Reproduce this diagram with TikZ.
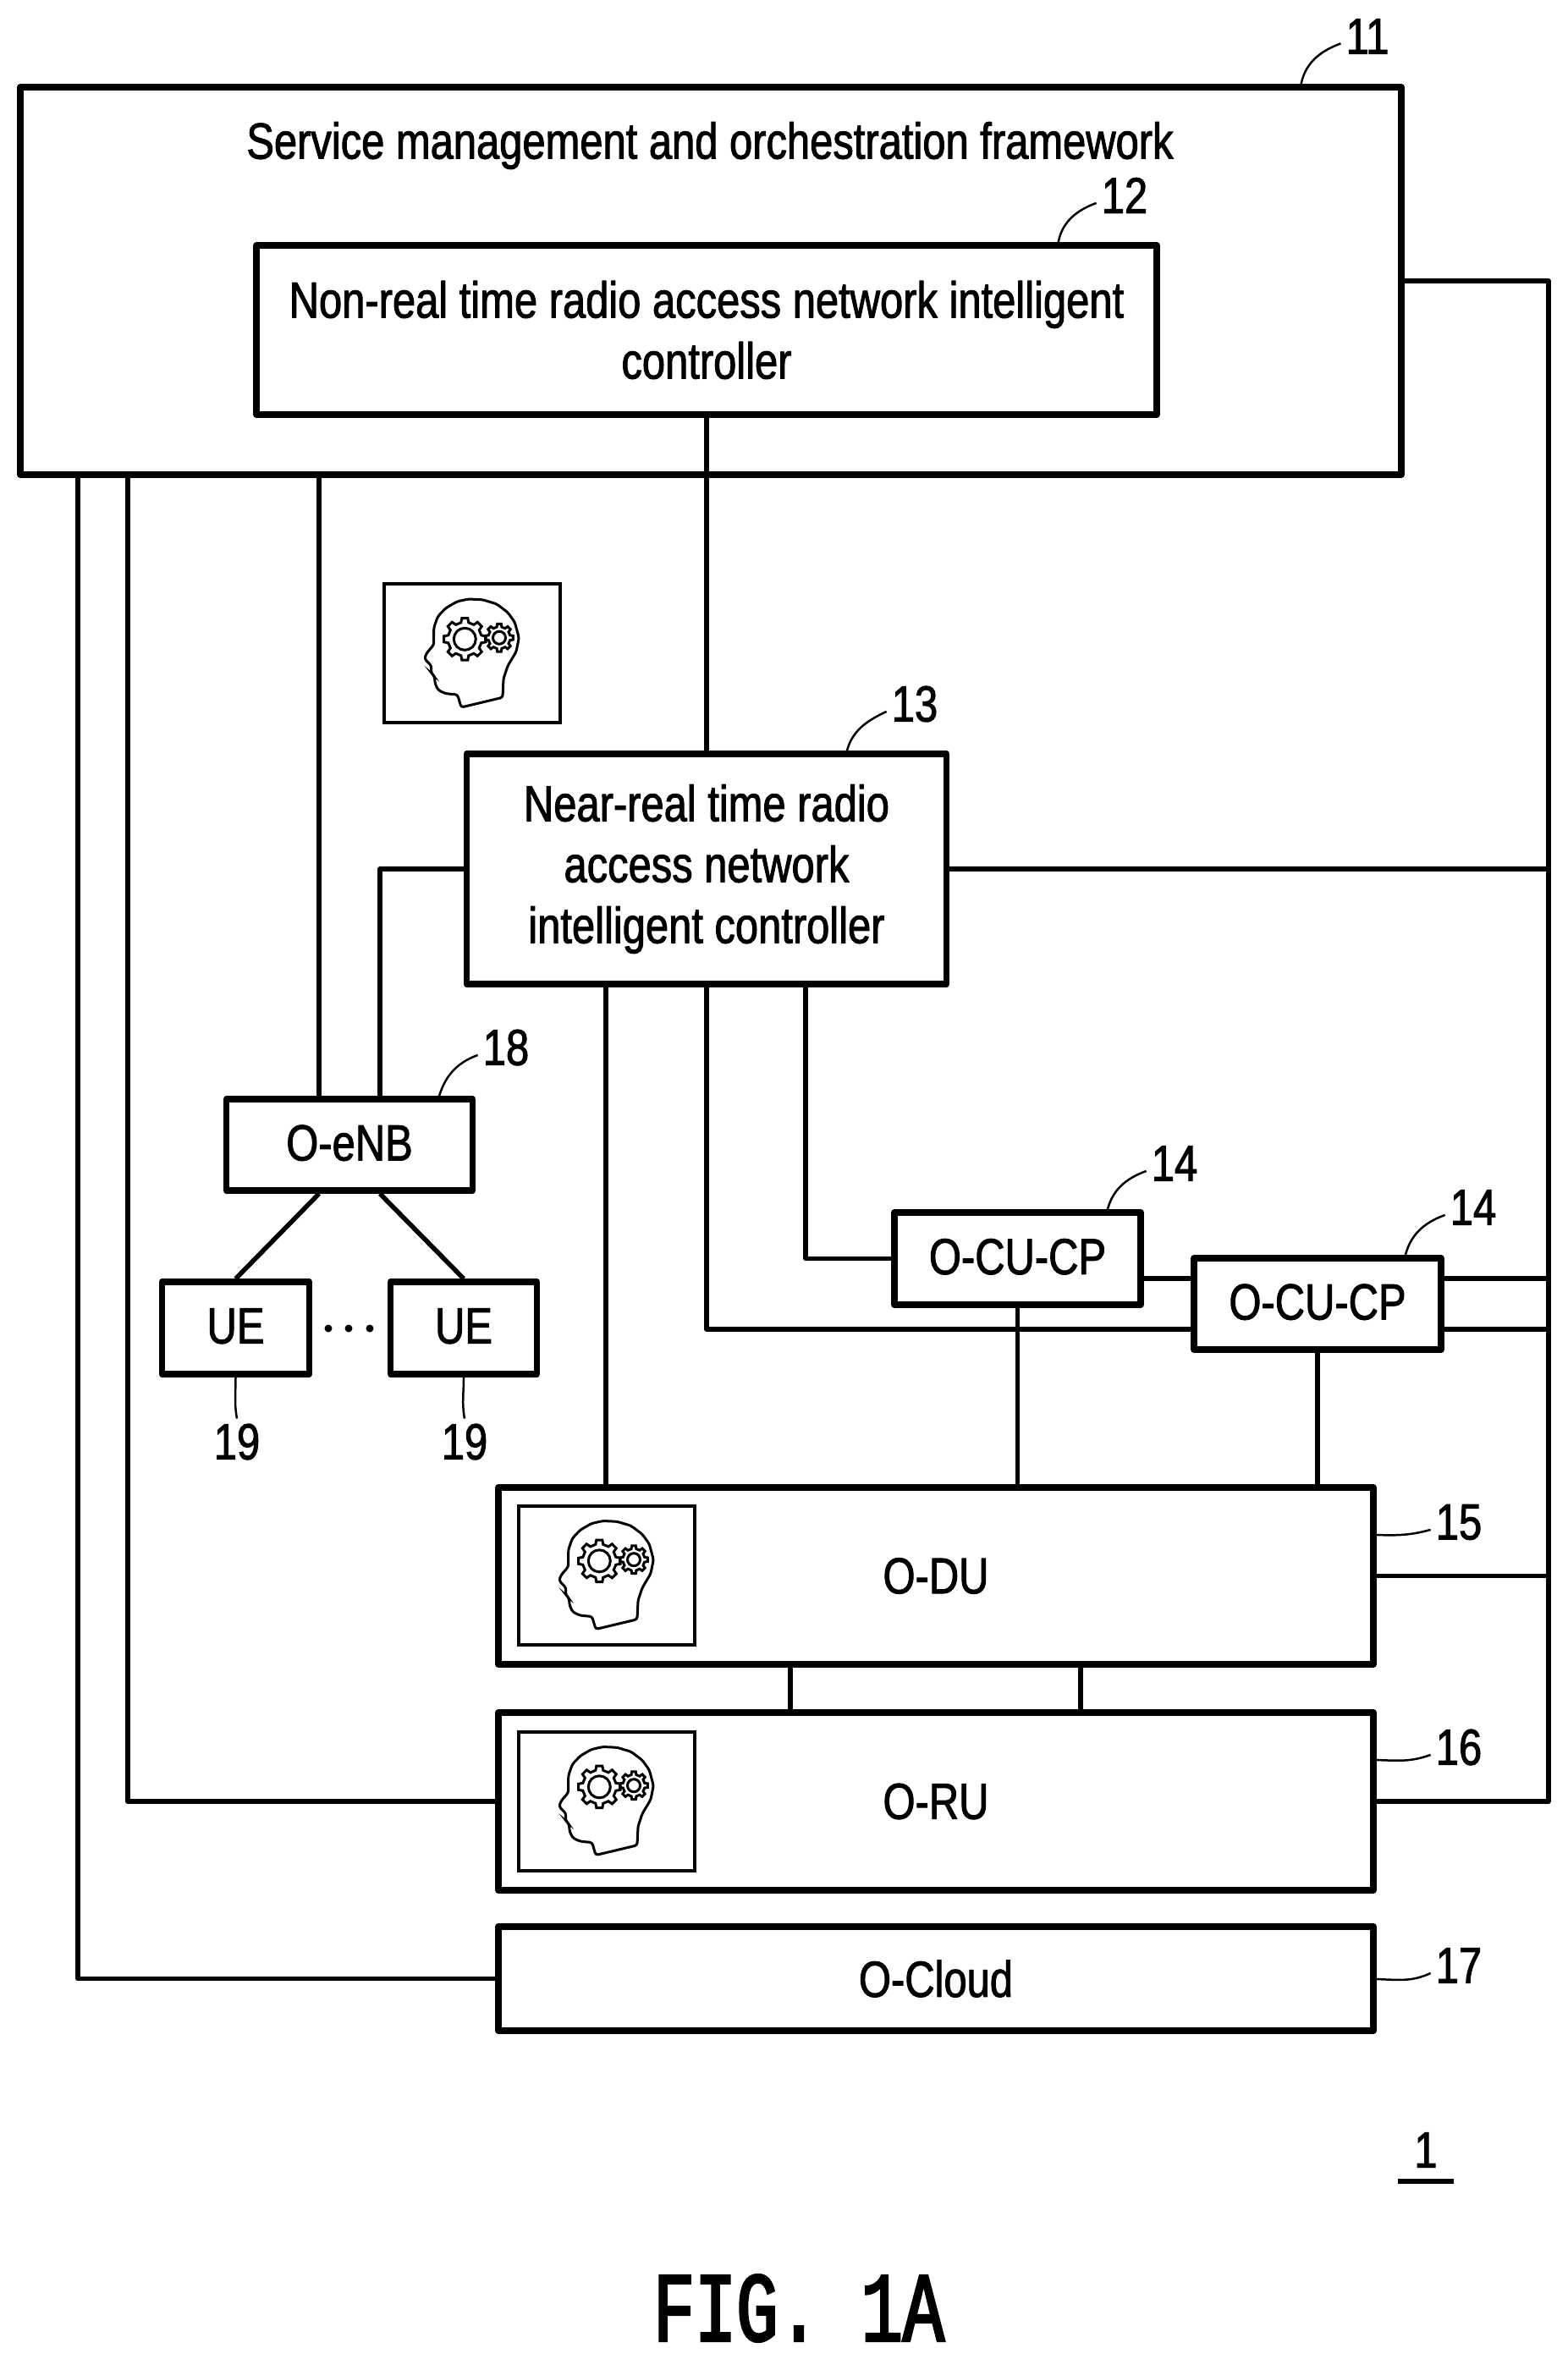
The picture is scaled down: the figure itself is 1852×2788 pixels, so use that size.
\documentclass[tikz,border=0pt]{standalone}
\usepackage{fontspec}
\setmainfont[FakeStretch=0.815, FakeBold=1.6]{Liberation Sans}
\newfontfamily\figfont[FakeStretch=0.7, FakeBold=2.5]{Liberation Mono}
\usepackage{tikz}

\tikzset{
  box/.style = {draw, rectangle, line width=7.5pt, line join=round, inner sep=0pt, align=center},
  smallbox/.style = {box, text depth=5pt},
  wire/.style = {line width=5.5pt, line join=round},
  lead/.style = {line width=2.5pt},
  num/.style = {inner sep=6pt},
  dot/.style = {circle, fill, inner sep=0pt, minimum size=9pt},
  brain/.pic = {
    \draw[line width=4pt] (-104,-82) rectangle (104,82);
    \draw[line width=3pt, rounded corners=3pt] (36,52.3) -- (-13,64) -- (-17.3,49) -- (-31.3,47.7) -- (-39.7,44) -- (-43.7,36.7) -- (-44.7,26.7) -- (-48.7,23.3) -- (-48,15) -- (-56.3,6.7) -- (-54,0) -- (-45.3,-10) -- (-45.3,-30) -- (-40.7,-43.3) -- (-31.3,-53.3) -- (-18,-61) -- (-4.7,-64) -- (12,-63.3) -- (28.7,-58.3) -- (42,-48.3) -- (50.3,-36.7) -- (55.3,-18.3) -- (52,-1.7) -- (42,15) -- (37,30) -- cycle;
    \begin{scope}[shift={(-8.7,-16.7)}, line width=3pt]
      \draw (0,0) circle (13);
      \draw (-13:20) \foreach \a in {0,45,...,315}{ -- ({\a-13}:20) -- ({\a-8}:25) -- ({\a+8}:25) -- ({\a+13}:20)} -- cycle;
    \end{scope}
    \begin{scope}[shift={(32,-18.3)}, line width=3pt]
      \draw (0,0) circle (7.5);
      \draw (-13:13) \foreach \a in {0,45,...,315}{ -- ({\a-13}:13) -- ({\a-8}:16.5) -- ({\a+8}:16.5) -- ({\a+13}:13)} -- cycle;
    \end{scope}
  }
}

\begin{document}
\begin{tikzpicture}[x=1pt, y=-1pt, every node/.style={font=\fontsize{60}{72}\selectfont}]
\useasboundingbox (0,0) rectangle (1852,2788);

\node[box, minimum width=1632pt, minimum height=458pt](s11) at (840,332){};
\node (t11) at (839,172){Service management and orchestration framework};
\node[box, minimum width=1064pt, minimum height=200pt](s12) at (835,390){Non-real time radio access network intelligent\\controller};
\node[box, minimum width=567pt, minimum height=272pt](s13) at (835,1027){Near-real time radio\\access network\\intelligent controller};
\node[smallbox, minimum width=291pt, minimum height=109pt](s14a) at (1202.5,1487.5){O-CU-CP};
\node[smallbox, minimum width=292pt, minimum height=108pt](s14b) at (1557,1541){O-CU-CP};
\node[box, minimum width=1034pt, minimum height=209pt](s15) at (1106,1862.5){O-DU};
\node[box, minimum width=1034pt, minimum height=210pt](s16) at (1106,2129){O-RU};
\node[box, minimum width=1034pt, minimum height=123pt](s17) at (1106,2338.5){O-Cloud};
\node[smallbox, minimum width=291pt, minimum height=108pt](s18) at (413,1353){O-eNB};
\node[smallbox, minimum width=174pt, minimum height=109pt](u1) at (278.5,1569.5){UE};
\node[smallbox, minimum width=173pt, minimum height=109pt](u2) at (548,1569.5){UE};
\foreach \x/\n in {388/d1, 412/d2, 437/d3}
  \node[dot](\n) at (\x,1570){};

\pic at (558,772) {brain};
\pic at (717,1861.5) {brain};
\pic at (717,2128.5) {brain};

\node[num](n11) at (1616,43){11};
\node[num](n12) at (1329,231){12};
\node[num](n13) at (1081,832){13};
\node[num](n14a) at (1388,1375){14};
\node[num](n14b) at (1741,1427){14};
\node[num](n15) at (1724,1799){15};
\node[num](n16) at (1724,2065){16};
\node[num](n17) at (1724,2323){17};
\node[num](n18) at (598,1238){18};
\node[num](n19a) at (280,1704){19};
\node[num](n19b) at (549,1704){19};
\node[num](n1) at (1685,2541){1};
\node (fig) at (944,2728){\fontsize{117}{130}\selectfont\figfont FIG. 1A};

\coordinate (l1) at (92,561);
\coordinate (l2) at (151,561);
\coordinate (l3) at (377,561);
\coordinate (l4) at (449,1027);
\coordinate (c1) at (716,1163);
\coordinate (c2) at (835,1163);
\coordinate (c3) at (952,1163);
\coordinate (r0) at (1830,332);
\coordinate (j1) at (1400,1511);
\coordinate (j2) at (1400,1571);
\coordinate (t1) at (934,1967);
\coordinate (t2) at (1277,1967);
\coordinate (k11) at (1537,103);
\coordinate (k12) at (1250,290);
\coordinate (k13) at (1000,891);
\coordinate (k14a) at (1308,1433);
\coordinate (k14b) at (1660,1487);
\coordinate (k15) at (1627,1814);
\coordinate (k16) at (1627,2080);
\coordinate (k17) at (1627,2339);
\coordinate (k18) at (518,1299);
\coordinate (m1) at (1652,2578);
\coordinate (m2) at (1718,2578);

\draw[wire] (l1 |- s11.south) |- (s17.west);
\draw[wire] (l2 |- s11.south) |- (s16.west);
\draw[wire] (l3 |- s11.south) -- (l3 |- s18.north);
\draw[wire] (c2 |- s12.south) -- (c2 |- s13.north);
\draw[wire] (s11.east |- r0) -- (r0) |- (s16.east);
\draw[wire] (s13.east) -- (r0 |- s13.east);
\draw[wire] (s13.west) -| (l4 |- s18.north);
\draw[wire] (c1 |- s13.south) -- (c1 |- s15.north);
\draw[wire] (c2 |- s13.south) |- (s14b.west |- j2);
\draw[wire] (c3 |- s13.south) |- (s14a.west);
\draw[wire] (s14a.east |- j1) -- (s14b.west |- j1);
\draw[wire] (s14b.east |- j1) -- (r0 |- j1);
\draw[wire] (s14b.east |- j2) -- (r0 |- j2);
\draw[wire] (s14a.south) -- (s14a.south |- s15.north);
\draw[wire] (s14b.south) -- (s14b.south |- s15.north);
\draw[wire] (s15.east) -- (r0 |- s15.east);
\draw[wire] (t1 |- s15.south) -- (t1 |- s16.north);
\draw[wire] (t2 |- s15.south) -- (t2 |- s16.north);
\draw[wire] (l3 |- s18.south) -- (u1.north);
\draw[wire] (l4 |- s18.south) -- (u2.north);
\draw[wire] (m1) -- (m2);

\draw[lead] (k11) to[out=82, in=200] (n11.195);
\draw[lead] (k12) to[out=82, in=200] (n12.195);
\draw[lead] (k13) to[out=78, in=205] (n13.195);
\draw[lead] (k14a) to[out=78, in=200] (n14a.195);
\draw[lead] (k14b) to[out=78, in=200] (n14b.195);
\draw[lead] (k15) to[out=-2, in=195] (n15.195);
\draw[lead] (k16) to[out=-2, in=200] (n16.195);
\draw[lead] (k17) to[out=-2, in=205] (n17.195);
\draw[lead] (k18) to[out=75, in=200] (n18.195);
\draw[lead] (u1.south) to[out=-90, in=100] (n19a.north);
\draw[lead] (u2.south) to[out=-90, in=100] (n19b.north);
\end{tikzpicture}
\end{document}
